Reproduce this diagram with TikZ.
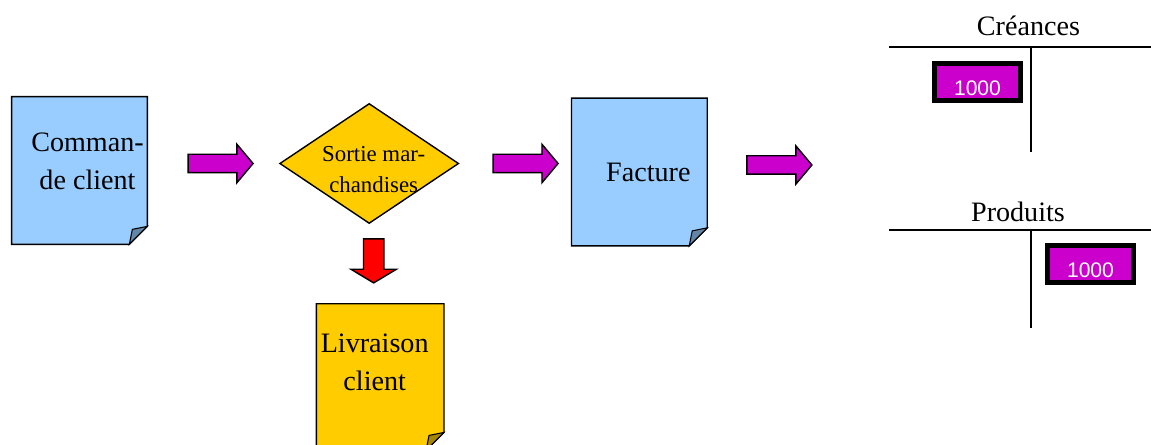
\documentclass[tikz,border=0pt]{standalone}
\usepackage{fontspec}
\setmainfont{Liberation Serif}
\setsansfont{Liberation Sans}
\usetikzlibrary{shapes.geometric, shapes.arrows, positioning, backgrounds, calc}
\definecolor{pageblue}{RGB}{153,204,255}
\definecolor{pageyellow}{RGB}{255,204,0}
\definecolor{flowmagenta}{RGB}{204,0,204}
\definecolor{flowred}{RGB}{255,0,0}
\newcommand{\pagefold}{0.36cm}
\tikzset{
    docpage/.style={rectangle, minimum width=2.7cm, minimum height=2.94cm, inner sep=0pt},
    docline/.style={draw=black, line width=0.8pt, fill=#1},
    doctext/.style={font=\fontsize{16}{21.5}\selectfont, align=center, inner sep=0pt},
    decision/.style={diamond, draw=black, fill=pageyellow, line width=0.8pt, minimum width=3.58cm, minimum height=2.4cm, inner sep=0pt},
    decisiontext/.style={font=\fontsize{13}{17.6}\selectfont, align=center, inner sep=0pt},
    blockarrow/.style={single arrow, draw=black, fill=#1, line width=0.8pt, minimum height=1.3cm, minimum width=0.74cm, text height=0.34cm, text depth=0pt, single arrow head extend=0.2cm, single arrow tip angle=100, inner sep=0pt},
    accttitle/.style={font=\fontsize{16}{19}\selectfont, inner sep=0pt, anchor=base},
    acctline/.style={line width=1.1pt},
    acctsplit/.style={line width=1.7pt},
    amountbox/.style={rectangle, draw=black, fill=flowmagenta, line width=0.1cm, minimum width=1.72cm, minimum height=0.74cm, inner sep=0pt, text=white, font=\sffamily\fontsize{12}{14}\selectfont, text height=0.54cm, text depth=0pt}
}

\begin{document}
\begin{tikzpicture}
\useasboundingbox (0,0) rectangle (23.02,-8.9);

% flow of documents
\node[docpage] (cmd) at (1.59,-3.41) {};
\node[blockarrow=flowmagenta, right=0.8cm of cmd, yshift=0.14cm] (arrcmd) {};
\node[decision, right=0.5cm of arrcmd] (sortie) {};
\node[blockarrow=flowmagenta, right=0.66cm of sortie] (arrsortie) {};
\node[docpage, right=0.25cm of arrsortie, yshift=-0.17cm] (fact) {};
\node[blockarrow=flowmagenta, right=0.78cm of fact, yshift=0.14cm] (arrfact) {};
\node[blockarrow=flowred, rotate=-90, minimum height=0.88cm, minimum width=0.88cm, text height=0.38cm, single arrow head extend=0.25cm, single arrow tip angle=118, anchor=west] (arrlivr) at ([xshift=0.09cm, yshift=-0.28cm]sortie.south) {};
\node[docpage, minimum width=2.54cm, minimum height=2.92cm, below=0.4cm of arrlivr.east, xshift=0.13cm] (livr) {};

\node[doctext] (cmdtext) at ([xshift=0.16cm, yshift=0.19cm]cmd.center) {Comman-\\de client};
\node[decisiontext] (sortietext) at ([xshift=0.09cm, yshift=-0.12cm]sortie.center) {Sortie mar-\\chandises};
\node[doctext] (facttext) at ([xshift=0.18cm]fact.center) {Facture};
\node[doctext] (livrtext) at ([xshift=-0.11cm, yshift=0.3cm]livr.center) {Livraison\\client};

\begin{scope}[on background layer]
\foreach \pg/\col in {cmd/pageblue, fact/pageblue, livr/pageyellow} {
  \draw[docline=\col] (\pg.north west) -- (\pg.north east) -- ([yshift=\pagefold]\pg.south east) -- ([xshift=-\pagefold]\pg.south east) -- (\pg.south west) -- cycle;
  \draw[docline=\col!65!black, line width=0.6pt] ([xshift=-\pagefold]\pg.south east) -- ([yshift=\pagefold]\pg.south east) -- ([xshift=-\pagefold+0.06cm, yshift=\pagefold-0.06cm]\pg.south east) -- cycle;
}
\end{scope}

% T accounts
\node[accttitle] (creances) at (20.57,-0.72) {Créances};
\coordinate (crleft) at (17.78,-0.94);
\coordinate (crright) at (23.02,-0.94);
\coordinate (crsplit) at (20.62,-0.94);
\draw[acctline] (crleft) -- (crright);
\draw[acctsplit] (crsplit) -- ++(0,-2.1);
\node[amountbox] (crdebit) at (19.55,-1.64) {1000};

\node[accttitle] (produits) at (20.36,-4.44) {Produits};
\coordinate (prleft) at (17.78,-4.6);
\coordinate (prright) at (23.02,-4.6);
\coordinate (prsplit) at (20.62,-4.6);
\draw[acctline] (prleft) -- (prright);
\draw[acctsplit] (prsplit) -- ++(0,-1.96);
\node[amountbox] (prcredit) at (21.81,-5.29) {1000};

\end{tikzpicture}
\end{document}
